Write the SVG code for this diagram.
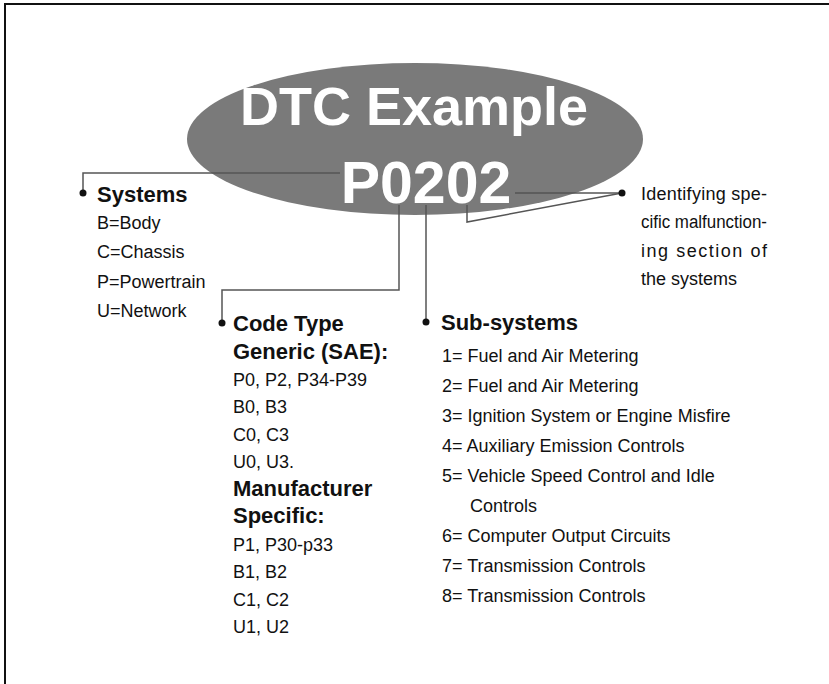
<svg xmlns="http://www.w3.org/2000/svg" width="829" height="684" viewBox="0 0 829 684">
<style>
.t{font-family:"Liberation Sans",Arial,sans-serif;fill:#111;font-size:18px}
.b{font-family:"Liberation Sans",Arial,sans-serif;fill:#111;font-weight:bold;font-size:22px}
.w{font-family:"Liberation Sans",Arial,sans-serif;fill:#fff;font-weight:bold;text-anchor:middle}
.c{fill:none;stroke:#555;stroke-width:1.5}
.dot{fill:#111}
</style>
<rect x="0" y="0" width="829" height="684" fill="#fff"/>
<rect x="5" y="4" width="840" height="700" fill="none" stroke="#111" stroke-width="2"/>
<g id="title">
<ellipse cx="415" cy="139" rx="228" ry="76" fill="#7a7a7a"/>
<text class="w" x="414" y="125" font-size="54">DTC Example</text>
<text class="w" x="426" y="203" font-size="59">P0202</text>
</g>
<g id="connectors">
<polyline class="c" points="340,173 83,173 83,192"/>
<polyline class="c" points="399,205 399,290 222,290 222,322"/>
<polyline class="c" points="426,205 426,322"/>
<polyline class="c" points="515,193 622,193"/>
<polyline class="c" points="467,205 467,222 622,193"/>
</g>
<g id="systems">
<circle class="dot" cx="83" cy="193" r="3.5"/>
<text class="b" x="97" y="202" font-size="24">Systems</text>
<text class="t" x="97" y="229">B=Body</text>
<text class="t" x="97" y="258">C=Chassis</text>
<text class="t" x="97" y="288">P=Powertrain</text>
<text class="t" x="97" y="317">U=Network</text>
</g>
<g id="codetype">
<circle class="dot" cx="222" cy="323" r="3.5"/>
<text class="b" x="233" y="331">Code Type</text>
<text class="b" x="233" y="358.5">Generic (SAE):</text>
<text class="t" x="233" y="386">P0, P2, P34-P39</text>
<text class="t" x="233" y="413">B0, B3</text>
<text class="t" x="233" y="441">C0, C3</text>
<text class="t" x="233" y="468">U0, U3.</text>
<text class="b" x="233" y="496">Manufacturer</text>
<text class="b" x="233" y="523">Specific:</text>
<text class="t" x="233" y="551">P1, P30-p33</text>
<text class="t" x="233" y="578">B1, B2</text>
<text class="t" x="233" y="606">C1, C2</text>
<text class="t" x="233" y="633">U1, U2</text>
</g>
<g id="subsystems">
<circle class="dot" cx="426" cy="322" r="3.5"/>
<text class="b" x="441" y="330">Sub-systems</text>
<text class="t" x="442" y="362">1= Fuel and Air Metering</text>
<text class="t" x="442" y="392">2= Fuel and Air Metering</text>
<text class="t" x="442" y="422">3= Ignition System or Engine Misfire</text>
<text class="t" x="442" y="452">4= Auxiliary Emission Controls</text>
<text class="t" x="442" y="482">5= Vehicle Speed Control and Idle</text>
<text class="t" x="470" y="512">Controls</text>
<text class="t" x="442" y="542">6= Computer Output Circuits</text>
<text class="t" x="442" y="572">7= Transmission Controls</text>
<text class="t" x="442" y="602">8= Transmission Controls</text>
</g>
<g id="identifying">
<circle class="dot" cx="622" cy="193" r="3.5"/>
<text class="t" x="641" y="200" textLength="126" lengthAdjust="spacing">Identifying spe-</text>
<text class="t" x="641" y="228" textLength="126" lengthAdjust="spacingAndGlyphs">cific malfunction-</text>
<text class="t" x="641" y="257" textLength="126" lengthAdjust="spacing">ing section of</text>
<text class="t" x="641" y="285">the systems</text>
</g>
</svg>
